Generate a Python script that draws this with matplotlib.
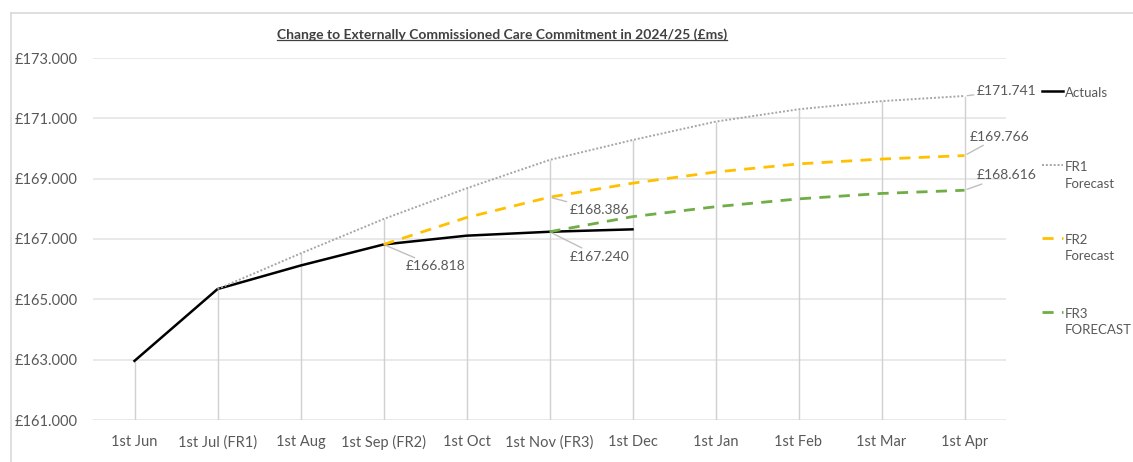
import numpy as np
import matplotlib
matplotlib.use("Agg")
import matplotlib.pyplot as plt
from matplotlib.lines import Line2D
from matplotlib.ticker import FuncFormatter

plt.rcParams['font.family'] = ['Lato', 'DejaVu Sans']

nan = np.nan

months = ["1st Jun", "1st Jul (FR1)", "1st Aug", "1st Sep (FR2)", "1st Oct",
          "1st Nov (FR3)", "1st Dec", "1st Jan", "1st Feb", "1st Mar", "1st Apr"]

actuals = [162.96, 165.34, 166.12, 166.818, 167.11, 167.240, 167.32, nan, nan, nan, nan]
fr1 = [nan, 165.34, 166.52, 167.66, 168.68, 169.62, 170.28, 170.89, 171.30, 171.57, 171.741]
fr2 = [nan, nan, nan, 166.818, 167.71, 168.386, 168.85, 169.22, 169.49, 169.65, 169.766]
fr3 = [nan, nan, nan, nan, nan, 167.240, 167.74, 168.07, 168.33, 168.51, 168.616]

series_names = ["Actuals", "FR1\nForecast", "FR2\nForecast", "FR3\nFORECAST"]
series_colors = ["#000000", "#A6A6A6", "#FFC000", "#70AD47"]
series_styles = ["-", (0, (1, 1)), (0, (4, 3)), (0, (4, 3))]
series_widths = [1.8, 1.4, 2.0, 2.0]

# (series index, category index, offset in px)
labelled = [(0, 3, (22, -22)), (0, 5, (20, -25)), (2, 5, (20, -13)),
            (1, 10, (12, 5)), (2, 10, (5, 19)), (3, 10, (12, 15))]

grey_text = "#595959"

fig = plt.figure(figsize=(11.33, 4.62), dpi=100)
ax = fig.add_axes([93 / 1133, 42 / 462, 913 / 1133, 362 / 462])

x = np.arange(len(months))
all_series = [actuals, fr1, fr2, fr3]
data = np.array(all_series, dtype=float)

# drop lines from highest value down to the axis
tops = np.nanmax(data, axis=0)
ax.vlines(x, 161, tops, color="#D0D0D0", linewidth=1, zorder=1)

for vals, c, ls, lw in zip(all_series, series_colors, series_styles, series_widths):
    ax.plot(x, vals, color=c, linestyle=ls, linewidth=lw, zorder=3)

for si, ci, off in labelled:
    v = all_series[si][ci]
    ax.annotate(f"£{v:.3f}", xy=(ci, v), xytext=off, textcoords="offset pixels",
                ha="left", va="center", fontsize=10, color=grey_text,
                arrowprops=dict(arrowstyle="-", color="#BFBFBF", lw=1,
                                shrinkA=0, shrinkB=2))

ax.set_xlim(-0.5, len(months) - 0.5)
ax.set_ylim(161, 173)
ax.set_yticks(np.arange(161, 174, 2))
ax.yaxis.set_major_formatter(FuncFormatter(lambda v, p: f"£{v:.3f}"))
ax.set_xticks(x)
ax.set_xticklabels(months)
ax.tick_params(axis="both", length=0, labelsize=10.5, colors=grey_text)
ax.tick_params(axis="y", pad=11)
ax.tick_params(axis="x", pad=11)
ax.grid(axis="y", color="#E3E3E3", linewidth=1.1)
ax.set_axisbelow(True)
for s in ax.spines.values():
    s.set_visible(False)

# legend on the right
leg_y = [91, 165, 238, 312]
for name, c, ls, lw, yy in zip(series_names, series_colors, series_styles, series_widths, leg_y):
    fy = 1 - yy / 462
    fig.add_artist(Line2D([1042 / 1133, 1063 / 1133], [fy, fy], color=c,
                          linestyle=ls, linewidth=lw))
    fig.text(1065 / 1133, fy + 4 / 462, name, ha="left", va="top", fontsize=9.5,
             color=grey_text, linespacing=1.45)

# title with underline
title = fig.text(502 / 1133, 1 - 35 / 462, "Change to Externally Commissioned Care Commitment in 2024/25 (£ms)",
                 ha="center", va="center", fontsize=10, fontweight="bold", color="#404040")
fig.canvas.draw()
bb = title.get_window_extent().transformed(fig.transFigure.inverted())
fig.add_artist(Line2D([bb.x0, bb.x1], [bb.y0 + 0.002, bb.y0 + 0.002],
                      color="#404040", linewidth=0.9))

# chart frame
fig.add_artist(Line2D([11 / 1133, 1], [1 - 13 / 462, 1 - 13 / 462], color="#D9D9D9", linewidth=1.2))
fig.add_artist(Line2D([11 / 1133, 11 / 1133], [0, 1 - 13 / 462], color="#D9D9D9", linewidth=1.2))

fig.savefig("out.png", dpi=100)
